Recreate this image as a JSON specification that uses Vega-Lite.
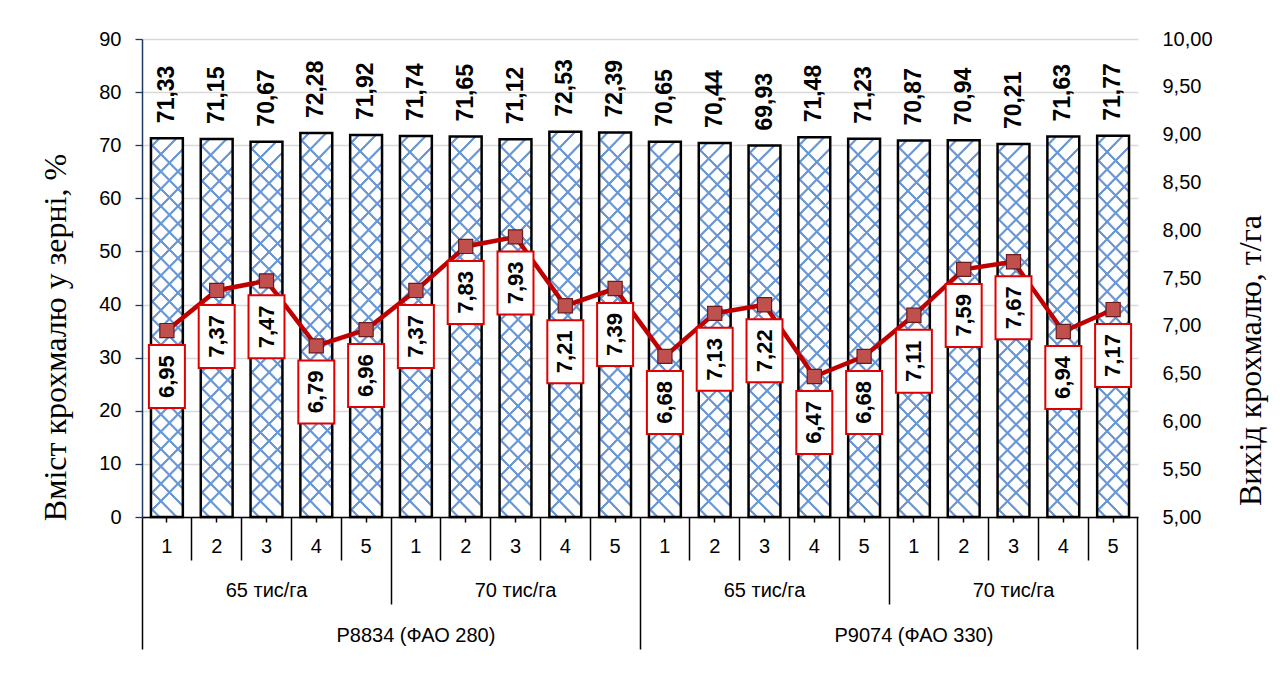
{
  "$schema": "https://vega.github.io/schema/vega-lite/v6.json",
  "width": 996,
  "height": 478,
  "autosize": {"type": "none"},
  "padding": {"left": 142, "top": 39, "right": 145, "bottom": 166},
  "background": "white",
  "config": {
    "view": {"stroke": null},
    "locale": {"number": {"decimal": ",", "thousands": " ", "grouping": [3], "currency": ["", ""]}},
    "axis": {"labelFont": "Liberation Sans", "titleFont": "Liberation Serif", "labelColor": "black", "titleColor": "black", "labelFontSize": 20}
  },
  "data": {
    "values": [
      {"id": 1, "hybrid": "P8834 (ФАО 280)", "density": "65 тис/га", "variant": 1, "starch": 71.33, "yield": 6.95},
      {"id": 2, "hybrid": "P8834 (ФАО 280)", "density": "65 тис/га", "variant": 2, "starch": 71.15, "yield": 7.37},
      {"id": 3, "hybrid": "P8834 (ФАО 280)", "density": "65 тис/га", "variant": 3, "starch": 70.67, "yield": 7.47},
      {"id": 4, "hybrid": "P8834 (ФАО 280)", "density": "65 тис/га", "variant": 4, "starch": 72.28, "yield": 6.79},
      {"id": 5, "hybrid": "P8834 (ФАО 280)", "density": "65 тис/га", "variant": 5, "starch": 71.92, "yield": 6.96},
      {"id": 6, "hybrid": "P8834 (ФАО 280)", "density": "70 тис/га", "variant": 1, "starch": 71.74, "yield": 7.37},
      {"id": 7, "hybrid": "P8834 (ФАО 280)", "density": "70 тис/га", "variant": 2, "starch": 71.65, "yield": 7.83},
      {"id": 8, "hybrid": "P8834 (ФАО 280)", "density": "70 тис/га", "variant": 3, "starch": 71.12, "yield": 7.93},
      {"id": 9, "hybrid": "P8834 (ФАО 280)", "density": "70 тис/га", "variant": 4, "starch": 72.53, "yield": 7.21},
      {"id": 10, "hybrid": "P8834 (ФАО 280)", "density": "70 тис/га", "variant": 5, "starch": 72.39, "yield": 7.39},
      {"id": 11, "hybrid": "P9074 (ФАО 330)", "density": "65 тис/га", "variant": 1, "starch": 70.65, "yield": 6.68},
      {"id": 12, "hybrid": "P9074 (ФАО 330)", "density": "65 тис/га", "variant": 2, "starch": 70.44, "yield": 7.13},
      {"id": 13, "hybrid": "P9074 (ФАО 330)", "density": "65 тис/га", "variant": 3, "starch": 69.93, "yield": 7.22},
      {"id": 14, "hybrid": "P9074 (ФАО 330)", "density": "65 тис/га", "variant": 4, "starch": 71.48, "yield": 6.47},
      {"id": 15, "hybrid": "P9074 (ФАО 330)", "density": "65 тис/га", "variant": 5, "starch": 71.23, "yield": 6.68},
      {"id": 16, "hybrid": "P9074 (ФАО 330)", "density": "70 тис/га", "variant": 1, "starch": 70.87, "yield": 7.11},
      {"id": 17, "hybrid": "P9074 (ФАО 330)", "density": "70 тис/га", "variant": 2, "starch": 70.94, "yield": 7.59},
      {"id": 18, "hybrid": "P9074 (ФАО 330)", "density": "70 тис/га", "variant": 3, "starch": 70.21, "yield": 7.67},
      {"id": 19, "hybrid": "P9074 (ФАО 330)", "density": "70 тис/га", "variant": 4, "starch": 71.63, "yield": 6.94},
      {"id": 20, "hybrid": "P9074 (ФАО 330)", "density": "70 тис/га", "variant": 5, "starch": 71.77, "yield": 7.17}
    ]
  },
  "resolve": {"scale": {"y": "independent"}, "axis": {"x": "independent", "y": "independent"}},
  "layer": [
    {
      "mark": {
        "type": "bar", "width": {"band": 0.64}, "strokeWidth": 0,
        "fill": {
          "gradient": "linear", "x1": 0, "y1": 0, "x2": 0.0853, "y2": 1,
          "stops": [
            {"offset": 0, "color": "white"},
            {"offset": 0.0173, "color": "white"}, {"offset": 0.0200, "color": "#6a97d6"}, {"offset": 0.0255, "color": "#6a97d6"}, {"offset": 0.0282, "color": "white"},
            {"offset": 0.0628, "color": "white"}, {"offset": 0.0655, "color": "#6a97d6"}, {"offset": 0.0710, "color": "#6a97d6"}, {"offset": 0.0737, "color": "white"},
            {"offset": 0.1082, "color": "white"}, {"offset": 0.1109, "color": "#6a97d6"}, {"offset": 0.1164, "color": "#6a97d6"}, {"offset": 0.1191, "color": "white"},
            {"offset": 0.1537, "color": "white"}, {"offset": 0.1564, "color": "#6a97d6"}, {"offset": 0.1619, "color": "#6a97d6"}, {"offset": 0.1646, "color": "white"},
            {"offset": 0.1991, "color": "white"}, {"offset": 0.2018, "color": "#6a97d6"}, {"offset": 0.2073, "color": "#6a97d6"}, {"offset": 0.2100, "color": "white"},
            {"offset": 0.2446, "color": "white"}, {"offset": 0.2473, "color": "#6a97d6"}, {"offset": 0.2528, "color": "#6a97d6"}, {"offset": 0.2555, "color": "white"},
            {"offset": 0.2900, "color": "white"}, {"offset": 0.2927, "color": "#6a97d6"}, {"offset": 0.2982, "color": "#6a97d6"}, {"offset": 0.3009, "color": "white"},
            {"offset": 0.3355, "color": "white"}, {"offset": 0.3382, "color": "#6a97d6"}, {"offset": 0.3437, "color": "#6a97d6"}, {"offset": 0.3464, "color": "white"},
            {"offset": 0.3809, "color": "white"}, {"offset": 0.3836, "color": "#6a97d6"}, {"offset": 0.3891, "color": "#6a97d6"}, {"offset": 0.3918, "color": "white"},
            {"offset": 0.4264, "color": "white"}, {"offset": 0.4291, "color": "#6a97d6"}, {"offset": 0.4346, "color": "#6a97d6"}, {"offset": 0.4373, "color": "white"},
            {"offset": 0.4718, "color": "white"}, {"offset": 0.4745, "color": "#6a97d6"}, {"offset": 0.4800, "color": "#6a97d6"}, {"offset": 0.4827, "color": "white"},
            {"offset": 0.5173, "color": "white"}, {"offset": 0.5200, "color": "#6a97d6"}, {"offset": 0.5255, "color": "#6a97d6"}, {"offset": 0.5282, "color": "white"},
            {"offset": 0.5628, "color": "white"}, {"offset": 0.5655, "color": "#6a97d6"}, {"offset": 0.5710, "color": "#6a97d6"}, {"offset": 0.5737, "color": "white"},
            {"offset": 0.6082, "color": "white"}, {"offset": 0.6109, "color": "#6a97d6"}, {"offset": 0.6164, "color": "#6a97d6"}, {"offset": 0.6191, "color": "white"},
            {"offset": 0.6537, "color": "white"}, {"offset": 0.6564, "color": "#6a97d6"}, {"offset": 0.6619, "color": "#6a97d6"}, {"offset": 0.6646, "color": "white"},
            {"offset": 0.6991, "color": "white"}, {"offset": 0.7018, "color": "#6a97d6"}, {"offset": 0.7073, "color": "#6a97d6"}, {"offset": 0.7100, "color": "white"},
            {"offset": 0.7446, "color": "white"}, {"offset": 0.7473, "color": "#6a97d6"}, {"offset": 0.7528, "color": "#6a97d6"}, {"offset": 0.7555, "color": "white"},
            {"offset": 0.7900, "color": "white"}, {"offset": 0.7927, "color": "#6a97d6"}, {"offset": 0.7982, "color": "#6a97d6"}, {"offset": 0.8009, "color": "white"},
            {"offset": 0.8355, "color": "white"}, {"offset": 0.8382, "color": "#6a97d6"}, {"offset": 0.8437, "color": "#6a97d6"}, {"offset": 0.8464, "color": "white"},
            {"offset": 0.8809, "color": "white"}, {"offset": 0.8836, "color": "#6a97d6"}, {"offset": 0.8891, "color": "#6a97d6"}, {"offset": 0.8918, "color": "white"},
            {"offset": 0.9264, "color": "white"}, {"offset": 0.9291, "color": "#6a97d6"}, {"offset": 0.9346, "color": "#6a97d6"}, {"offset": 0.9373, "color": "white"},
            {"offset": 0.9718, "color": "white"}, {"offset": 0.9745, "color": "#6a97d6"}, {"offset": 0.9800, "color": "#6a97d6"}, {"offset": 0.9827, "color": "white"},
            {"offset": 1, "color": "white"}
          ]
        }
      },
      "encoding": {
        "x": {
          "field": "id", "type": "ordinal",
          "scale": {"paddingInner": 0, "paddingOuter": 0},
          "axis": {
            "orient": "bottom", "title": null, "bandPosition": 0.5,
            "tickSize": 5, "tickColor": "black", "tickWidth": 1.5,
            "domainColor": "black", "domainWidth": 1.5,
            "labelAngle": 0, "labelBaseline": "middle", "labelPadding": 24,
            "labelExpr": "'' + ((datum.value - 1) % 5 + 1)"
          }
        },
        "y": {
          "field": "starch", "type": "quantitative",
          "scale": {"domain": [0, 90], "nice": false},
          "axis": {
            "orient": "left", "values": [0, 10, 20, 30, 40, 50, 60, 70, 80, 90],
            "grid": true, "gridColor": "#d9d9d9", "gridWidth": 1.3,
            "domainColor": "#1f3864", "domainWidth": 1.5,
            "tickColor": "#1f3864", "tickSize": 7, "tickWidth": 1.3,
            "labelPadding": 14,
            "title": "Вміст крохмалю у зерні, %", "titleFontSize": 32, "titleFontWeight": "normal",
            "titleAngle": 270, "titleX": -87, "titleY": 298, "titleBaseline": "middle", "titleAlign": "center"
          }
        }
      }
    },
    {
      "mark": {
        "type": "bar", "width": {"band": 0.64}, "stroke": "black", "strokeWidth": 2.5,
        "fill": {
          "gradient": "linear", "x1": 0.0853, "y1": 0, "x2": 0, "y2": 1,
          "stops": [
            {"offset": 0, "color": "rgba(106,151,214,0)"},
            {"offset": 0.0173, "color": "rgba(106,151,214,0)"}, {"offset": 0.0200, "color": "#6a97d6"}, {"offset": 0.0255, "color": "#6a97d6"}, {"offset": 0.0282, "color": "rgba(106,151,214,0)"},
            {"offset": 0.0628, "color": "rgba(106,151,214,0)"}, {"offset": 0.0655, "color": "#6a97d6"}, {"offset": 0.0710, "color": "#6a97d6"}, {"offset": 0.0737, "color": "rgba(106,151,214,0)"},
            {"offset": 0.1082, "color": "rgba(106,151,214,0)"}, {"offset": 0.1109, "color": "#6a97d6"}, {"offset": 0.1164, "color": "#6a97d6"}, {"offset": 0.1191, "color": "rgba(106,151,214,0)"},
            {"offset": 0.1537, "color": "rgba(106,151,214,0)"}, {"offset": 0.1564, "color": "#6a97d6"}, {"offset": 0.1619, "color": "#6a97d6"}, {"offset": 0.1646, "color": "rgba(106,151,214,0)"},
            {"offset": 0.1991, "color": "rgba(106,151,214,0)"}, {"offset": 0.2018, "color": "#6a97d6"}, {"offset": 0.2073, "color": "#6a97d6"}, {"offset": 0.2100, "color": "rgba(106,151,214,0)"},
            {"offset": 0.2446, "color": "rgba(106,151,214,0)"}, {"offset": 0.2473, "color": "#6a97d6"}, {"offset": 0.2528, "color": "#6a97d6"}, {"offset": 0.2555, "color": "rgba(106,151,214,0)"},
            {"offset": 0.2900, "color": "rgba(106,151,214,0)"}, {"offset": 0.2927, "color": "#6a97d6"}, {"offset": 0.2982, "color": "#6a97d6"}, {"offset": 0.3009, "color": "rgba(106,151,214,0)"},
            {"offset": 0.3355, "color": "rgba(106,151,214,0)"}, {"offset": 0.3382, "color": "#6a97d6"}, {"offset": 0.3437, "color": "#6a97d6"}, {"offset": 0.3464, "color": "rgba(106,151,214,0)"},
            {"offset": 0.3809, "color": "rgba(106,151,214,0)"}, {"offset": 0.3836, "color": "#6a97d6"}, {"offset": 0.3891, "color": "#6a97d6"}, {"offset": 0.3918, "color": "rgba(106,151,214,0)"},
            {"offset": 0.4264, "color": "rgba(106,151,214,0)"}, {"offset": 0.4291, "color": "#6a97d6"}, {"offset": 0.4346, "color": "#6a97d6"}, {"offset": 0.4373, "color": "rgba(106,151,214,0)"},
            {"offset": 0.4718, "color": "rgba(106,151,214,0)"}, {"offset": 0.4745, "color": "#6a97d6"}, {"offset": 0.4800, "color": "#6a97d6"}, {"offset": 0.4827, "color": "rgba(106,151,214,0)"},
            {"offset": 0.5173, "color": "rgba(106,151,214,0)"}, {"offset": 0.5200, "color": "#6a97d6"}, {"offset": 0.5255, "color": "#6a97d6"}, {"offset": 0.5282, "color": "rgba(106,151,214,0)"},
            {"offset": 0.5628, "color": "rgba(106,151,214,0)"}, {"offset": 0.5655, "color": "#6a97d6"}, {"offset": 0.5710, "color": "#6a97d6"}, {"offset": 0.5737, "color": "rgba(106,151,214,0)"},
            {"offset": 0.6082, "color": "rgba(106,151,214,0)"}, {"offset": 0.6109, "color": "#6a97d6"}, {"offset": 0.6164, "color": "#6a97d6"}, {"offset": 0.6191, "color": "rgba(106,151,214,0)"},
            {"offset": 0.6537, "color": "rgba(106,151,214,0)"}, {"offset": 0.6564, "color": "#6a97d6"}, {"offset": 0.6619, "color": "#6a97d6"}, {"offset": 0.6646, "color": "rgba(106,151,214,0)"},
            {"offset": 0.6991, "color": "rgba(106,151,214,0)"}, {"offset": 0.7018, "color": "#6a97d6"}, {"offset": 0.7073, "color": "#6a97d6"}, {"offset": 0.7100, "color": "rgba(106,151,214,0)"},
            {"offset": 0.7446, "color": "rgba(106,151,214,0)"}, {"offset": 0.7473, "color": "#6a97d6"}, {"offset": 0.7528, "color": "#6a97d6"}, {"offset": 0.7555, "color": "rgba(106,151,214,0)"},
            {"offset": 0.7900, "color": "rgba(106,151,214,0)"}, {"offset": 0.7927, "color": "#6a97d6"}, {"offset": 0.7982, "color": "#6a97d6"}, {"offset": 0.8009, "color": "rgba(106,151,214,0)"},
            {"offset": 0.8355, "color": "rgba(106,151,214,0)"}, {"offset": 0.8382, "color": "#6a97d6"}, {"offset": 0.8437, "color": "#6a97d6"}, {"offset": 0.8464, "color": "rgba(106,151,214,0)"},
            {"offset": 0.8809, "color": "rgba(106,151,214,0)"}, {"offset": 0.8836, "color": "#6a97d6"}, {"offset": 0.8891, "color": "#6a97d6"}, {"offset": 0.8918, "color": "rgba(106,151,214,0)"},
            {"offset": 0.9264, "color": "rgba(106,151,214,0)"}, {"offset": 0.9291, "color": "#6a97d6"}, {"offset": 0.9346, "color": "#6a97d6"}, {"offset": 0.9373, "color": "rgba(106,151,214,0)"},
            {"offset": 0.9718, "color": "rgba(106,151,214,0)"}, {"offset": 0.9745, "color": "#6a97d6"}, {"offset": 0.9800, "color": "#6a97d6"}, {"offset": 0.9827, "color": "rgba(106,151,214,0)"},
            {"offset": 1, "color": "rgba(106,151,214,0)"}
          ]
        }
      },
      "encoding": {
        "x": {"field": "id", "type": "ordinal", "axis": null},
        "y": {"field": "starch", "type": "quantitative", "scale": {"domain": [0, 90], "nice": false}, "axis": null}
      }
    },
    {
      "mark": {"type": "text", "angle": 270, "align": "left", "baseline": "middle", "yOffset": -15, "font": "Liberation Sans", "fontSize": 23, "fontWeight": "bold", "color": "black"},
      "encoding": {
        "x": {
          "field": "id", "type": "ordinal",
          "axis": {
            "orient": "bottom", "title": null, "bandPosition": 0,
            "labels": false, "domain": false,
            "tickColor": "black", "tickWidth": 1.5,
            "tickSize": {"expr": "datum.value == 1 || datum.value == 11 ? 132 : (datum.value == 6 || datum.value == 16 ? 87 : 43)"}
          }
        },
        "y": {"field": "starch", "type": "quantitative", "scale": {"domain": [0, 90], "nice": false}, "axis": null},
        "text": {"field": "starch", "type": "quantitative", "format": ".2f"}
      }
    },
    {
      "mark": {"type": "line", "color": "#c00000", "strokeWidth": 4.5},
      "encoding": {
        "x": {
          "field": "id", "type": "ordinal",
          "axis": {
            "orient": "bottom", "title": null, "bandPosition": 0.5,
            "ticks": false, "domain": false, "labelOverlap": false,
            "labelAngle": 0, "labelBaseline": "middle", "labelPadding": 73,
            "labelExpr": "datum.value % 5 == 3 ? ((datum.value - 1) % 10 < 5 ? '65 тис/га' : '70 тис/га') : ''"
          }
        },
        "y": {
          "field": "yield", "type": "quantitative",
          "scale": {"domain": [5, 10], "nice": false, "zero": false},
          "axis": {
            "orient": "right", "values": [5, 5.5, 6, 6.5, 7, 7.5, 8, 8.5, 9, 9.5, 10],
            "format": ".2f", "grid": false, "domain": false, "ticks": false, "labelPadding": 24,
            "title": "Вихід крохмалю, т/га", "titleFontSize": 32, "titleFontWeight": "normal",
            "titleAngle": 270, "titleX": 112, "titleY": 321, "titleBaseline": "middle", "titleAlign": "center"
          }
        }
      }
    },
    {
      "mark": {"type": "point", "shape": "square", "filled": true, "size": 200, "fill": "#c0504d", "stroke": "#6b1b1b", "strokeWidth": 1.2, "opacity": 1},
      "encoding": {
        "x": {
          "field": "id", "type": "ordinal",
          "axis": {
            "orient": "bottom", "title": null, "bandPosition": 0,
            "ticks": false, "domain": false, "labelOverlap": false,
            "labelAngle": 0, "labelBaseline": "middle", "labelPadding": 118,
            "labelExpr": "datum.value == 6 ? 'P8834 (ФАО 280)' : (datum.value == 16 ? 'P9074 (ФАО 330)' : '')"
          }
        },
        "y": {"field": "yield", "type": "quantitative", "scale": {"domain": [5, 10], "nice": false, "zero": false}, "axis": null}
      }
    },
    {
      "mark": {"type": "point", "shape": "M-0.571,-1L0.571,-1L0.571,1L-0.571,1Z", "filled": true, "fill": "white", "stroke": "#e00000", "strokeWidth": 2, "size": 3969, "yOffset": 46, "opacity": 1},
      "encoding": {
        "x": {
          "field": "id", "type": "ordinal",
          "axis": {
            "orient": "bottom", "title": null, "bandPosition": 1, "values": [20],
            "labels": false, "domain": false,
            "tickColor": "black", "tickWidth": 1.5, "tickSize": 132
          }
        },
        "y": {"field": "yield", "type": "quantitative", "scale": {"domain": [5, 10], "nice": false, "zero": false}, "axis": null}
      }
    },
    {
      "mark": {"type": "text", "angle": 270, "align": "center", "baseline": "middle", "yOffset": 46, "font": "Liberation Sans", "fontSize": 22, "fontWeight": "bold", "color": "black"},
      "encoding": {
        "x": {"field": "id", "type": "ordinal", "axis": null},
        "y": {"field": "yield", "type": "quantitative", "scale": {"domain": [5, 10], "nice": false, "zero": false}, "axis": null},
        "text": {"field": "yield", "type": "quantitative", "format": ".2f"}
      }
    }
  ]
}
